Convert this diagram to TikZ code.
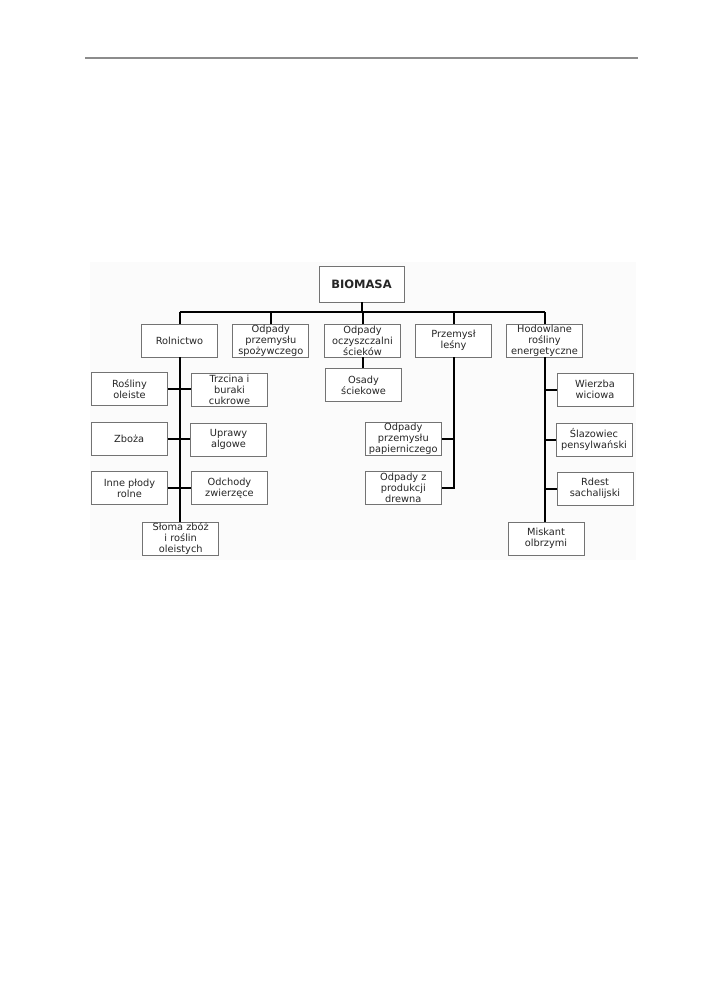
\documentclass[tikz,border=0pt]{standalone}
\usepackage{fontspec}
\setsansfont{DejaVu Sans}
\usepackage{tikz}
\usetikzlibrary{positioning}

\tikzset{
  box/.style={draw=black!55, line width=0.9pt, fill=white, text=black!85,
    minimum width=76pt, minimum height=33pt, inner sep=0.5pt, align=center,
    font=\sffamily\fontsize{9.8}{11}\selectfont},
  topbox/.style={box, minimum width=85pt, minimum height=36pt,
    font=\sffamily\bfseries\fontsize{11.5}{13}\selectfont},
  link/.style={line width=2pt, black}
}

\begin{document}
\begin{tikzpicture}[x=1pt, y=-1pt]

    \useasboundingbox (0,0) rectangle (723,999);

    % Rule
    \draw[black!45, line width=2pt] (85,58) -- (638,58);

    % Background
    \fill[black!1.5] (90,262) rectangle (636,560);

    % Root
    \node[topbox] (biomasa) at (361.5,284) {BIOMASA};

    % First level
    \node[box] (rolnictwo) at (179.5,340.5) {Rolnictwo};
    \node[box] (spozywczy) at (270.8,340.5) {Odpady\\przemysłu\\spożywczego};
    \node[box] (oczyszczalnie) at (362.5,340.5) {Odpady\\oczyszczalni\\ścieków};
    \node[box] (lesny) at (453.5,340.5) {Przemysł\\leśny};
    \node[box] (hodowlane) at (544.5,340.5) {Hodowlane\\rośliny\\energetyczne};

    % Rolnictwo
    \node[box] (oleiste) at (129.5,389) {Rośliny\\oleiste};
    \node[box] (trzcina) at (229.5,389.5) {Trzcina i\\buraki\\cukrowe};
    \node[box] (zboza) at (129.2,439) {Zboża};
    \node[box] (algowe) at (228.5,439.5) {Uprawy\\algowe};
    \node[box] (inne) at (129.5,488) {Inne płody\\rolne};
    \node[box] (odchody) at (229.5,488) {Odchody\\zwierzęce};
    \node[box] (sloma) at (180.7,538.7) {Słoma zbóż\\i roślin\\oleistych};

    % Oczyszczalnie
    \node[box] (osady) at (363.5,385) {Osady\\ściekowe};

    % Przemysl lesny
    \node[box] (papier) at (403.3,439) {Odpady\\przemysłu\\papierniczego};
    \node[box] (drewna) at (403.3,487.7) {Odpady z\\produkcji\\drewna};

    % Hodowlane
    \node[box] (wierzba) at (595,389.7) {Wierzba\\wiciowa};
    \node[box] (slazowiec) at (594,439.7) {Ślazowiec\\pensylwański};
    \node[box] (rdest) at (595,488.7) {Rdest\\sachalijski};
    \node[box] (miskant) at (546,538.7) {Miskant\\olbrzymi};

    % Connections
    \coordinate (bus) at (361.5,312.3);
    \draw[link] (biomasa.south) -- (bus);
    \draw[link] (rolnictwo.north |- bus) -- (hodowlane.north |- bus);
    \foreach \n in {rolnictwo,spozywczy,oczyszczalnie,lesny,hodowlane}
        \draw[link] (\n.north) -- (\n.north |- bus);

    \draw[link] (rolnictwo.south) -- (rolnictwo.south |- sloma.north);
    \foreach \a/\b in {oleiste/trzcina,zboza/algowe,inne/odchody}
        \draw[link] (\a.east) -- (\a.east -| \b.west);

    \draw[link] (oczyszczalnie.south) -- (oczyszczalnie.south |- osady.north);

    \draw[link] (lesny.south) |- (drewna.east);
    \draw[link] (papier.east) -- (papier.east -| lesny.south);

    \draw[link] (hodowlane.south) -- (hodowlane.south |- miskant.north);
    \foreach \n in {wierzba,slazowiec,rdest}
        \draw[link] (\n.west) -- (\n.west -| hodowlane.south);

\end{tikzpicture}
\end{document}
